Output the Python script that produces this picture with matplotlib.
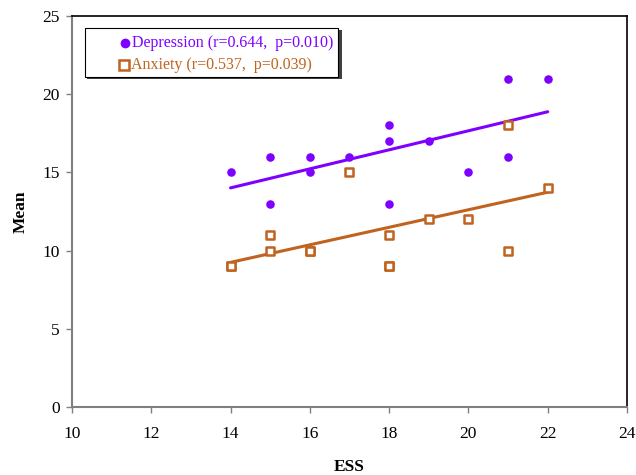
import matplotlib
matplotlib.use("Agg")
import matplotlib.pyplot as plt
import numpy as np
from matplotlib.patches import Rectangle

plt.rcParams['font.family'] = ['Liberation Serif', 'DejaVu Serif']

dep_x = [14, 15, 15, 16, 16, 17, 18, 18, 18, 19, 20, 21, 21, 22]
dep_y = [15, 16, 13, 16, 15, 16, 18, 17, 13, 17, 15, 21, 16, 21]
anx_x = [14, 14, 15, 15, 16, 16, 17, 18, 18, 18, 19, 20, 21, 21, 22]
anx_y = [9, 9, 11, 10, 10, 10, 15, 11, 9, 9, 12, 12, 18, 10, 14]

dep_label = "Depression (r=0.644,  p=0.010)"
anx_label = "Anxiety (r=0.537,  p=0.039)"
x_ticks = [10, 12, 14, 16, 18, 20, 22, 24]
y_ticks = [0, 5, 10, 15, 20, 25]

dep_color = '#7F00FF'
anx_color = '#C0631E'

fig = plt.figure(figsize=(6.36, 4.75), dpi=100)
ax = fig.add_axes([72/636, 1-407/475, (627-72)/636, (407-16)/475])

ax.scatter(dep_x, dep_y, s=38, color=dep_color, marker='o', zorder=3, linewidths=0)
ax.scatter(anx_x, anx_y, s=40, facecolor='white', edgecolor=anx_color, marker='s', linewidths=1.8, zorder=3)

for xs, ys, c in [(dep_x, dep_y, dep_color), (anx_x, anx_y, anx_color)]:
    m, b = np.polyfit(xs, ys, 1)
    xx = np.array([min(xs), max(xs)])
    ax.plot(xx, m*xx + b, color=c, lw=2.2, zorder=2, solid_capstyle='round')

ax.set_xlim(10, 24)
ax.set_ylim(0, 25)
ax.set_xticks(x_ticks)
ax.set_yticks(y_ticks)
ax.tick_params(axis='both', labelsize=12.5, direction='out', length=4, color='#808080', width=1)
ax.tick_params(axis='x', pad=10)
ax.tick_params(axis='y', pad=5)
for s in ['left', 'bottom']:
    ax.spines[s].set_color('#808080')
    ax.spines[s].set_linewidth(1.5)
for s in ['right', 'top']:
    ax.spines[s].set_color('black')
    ax.spines[s].set_linewidth(1.2)

ax.set_xlabel('ESS', fontsize=12.5, fontweight='bold', labelpad=12)
ax.set_ylabel('Mean', fontsize=12.5, fontweight='bold', labelpad=10)

# legend box with shadow
fx = lambda px: px/636
fy = lambda py: 1 - py/475
fig.patches.append(Rectangle((fx(87), fy(79)), fx(340)-fx(85), fy(30)-fy(79),
                             transform=fig.transFigure, facecolor='#404040', edgecolor='none', zorder=4))
fig.patches.append(Rectangle((fx(85), fy(77)), fx(338)-fx(85), fy(28)-fy(77),
                             transform=fig.transFigure, facecolor='white', edgecolor='black', lw=0.8, zorder=5))
fig.lines.append(plt.Line2D([fx(125)], [fy(43)], marker='o', ms=6, color=dep_color, ls='none',
                            transform=fig.transFigure, zorder=6))
fig.lines.append(plt.Line2D([fx(124)], [fy(65)], marker='s', ms=6.5, mfc='white', mec=anx_color, mew=1.8,
                            ls='none', transform=fig.transFigure, zorder=6))
fig.text(fx(132), fy(43), dep_label, color=dep_color, fontsize=11.5, va='center', ha='left', zorder=7)
fig.text(fx(131), fy(65), anx_label, color=anx_color, fontsize=11.5, va='center', ha='left', zorder=7)

fig.savefig('out.png', dpi=100)
